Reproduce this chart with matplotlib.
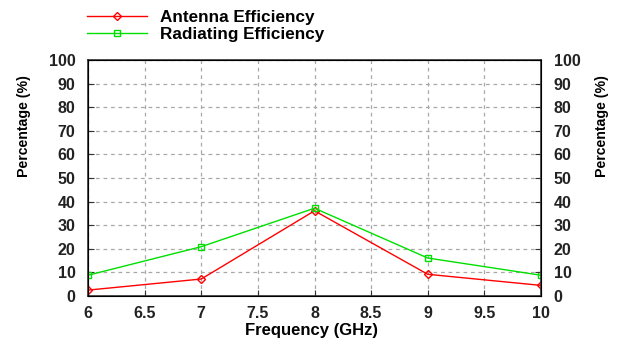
import matplotlib.pyplot as plt
from matplotlib.lines import Line2D

plt.rcParams['font.family'] = ['Liberation Sans', 'DejaVu Sans']

freq = [6, 7, 8, 9, 10]
antenna_eff = [2.5, 7.2, 36.1, 9.2, 4.5]
radiating_eff = [8.8, 20.9, 37.2, 16.1, 8.8]
xticks = [6, 6.5, 7, 7.5, 8, 8.5, 9, 9.5, 10]
xtick_labels = ['6', '6.5', '7', '7.5', '8', '8.5', '9', '9.5', '10']
yticks = list(range(0, 101, 10))

red = '#ff0000'
green = '#00e000'
tick_fs = 11.5

fig = plt.figure(figsize=(6.22, 3.44), dpi=100)
ax = fig.add_axes([0.1415, 0.1395, 0.7283, 0.6861])

ax.plot(freq, antenna_eff, color=red, lw=1, marker='D', ms=4,
        mfc='none', mec=red, mew=1)
ax.plot(freq, radiating_eff, color=green, lw=1, marker='s', ms=4.5,
        mfc='none', mec=green, mew=1)

ax.set_xlim(6, 10)
ax.set_ylim(0, 100)
ax.set_xticks(xticks)
ax.set_xticklabels(xtick_labels)
ax.set_yticks(yticks)
ax.grid(True, color='#a8a8a8', linestyle=(0, (3, 3)), lw=0.9)
ax.tick_params(axis='y', direction='in', length=4, pad=9, labelsize=tick_fs,
               colors='#333333', labelcolor='#222222')
ax.tick_params(axis='x', direction='in', length=4, pad=7, labelsize=tick_fs,
               colors='#333333', labelcolor='#222222')
for lab in ax.get_xticklabels() + ax.get_yticklabels():
    lab.set_fontweight('bold')
for sp in ax.spines.values():
    sp.set_color('#333333')
    sp.set_linewidth(1.2)

ax.set_xlabel('Frequency (GHz)', fontsize=12, fontweight='bold', va='center')
ax.xaxis.set_label_coords(0.493, -0.148)
ax.set_ylabel('Percentage (%)', fontsize=10.2, fontweight='bold', va='center')
ax.yaxis.set_label_coords(-0.142, 0.72)

ax2 = ax.twinx()
ax2.set_ylim(0, 100)
ax2.set_yticks(yticks)
ax2.tick_params(direction='in', length=4, pad=9, labelsize=tick_fs,
                colors='#333333', labelcolor='#222222')
for lab in ax2.get_yticklabels():
    lab.set_fontweight('bold')
ax2.set_ylabel('Percentage (%)', fontsize=10.2, fontweight='bold',
               rotation=90, va='center')
ax2.yaxis.set_label_coords(1.135, 0.72)

handles = [
    Line2D([], [], color=red, lw=1, marker='D', ms=4, mfc='none', mec=red),
    Line2D([], [], color=green, lw=1, marker='s', ms=4.5, mfc='none', mec=green),
]
fig.legend(handles, ['Antenna Efficiency', 'Radiating Efficiency'],
           loc='upper left', bbox_to_anchor=(87 / 622, 0.97), frameon=False,
           prop={'weight': 'bold', 'size': 12.3}, handlelength=3.5,
           labelspacing=0.1, handletextpad=0.8, borderpad=0, borderaxespad=0)

fig.savefig('out.png', dpi=100)
